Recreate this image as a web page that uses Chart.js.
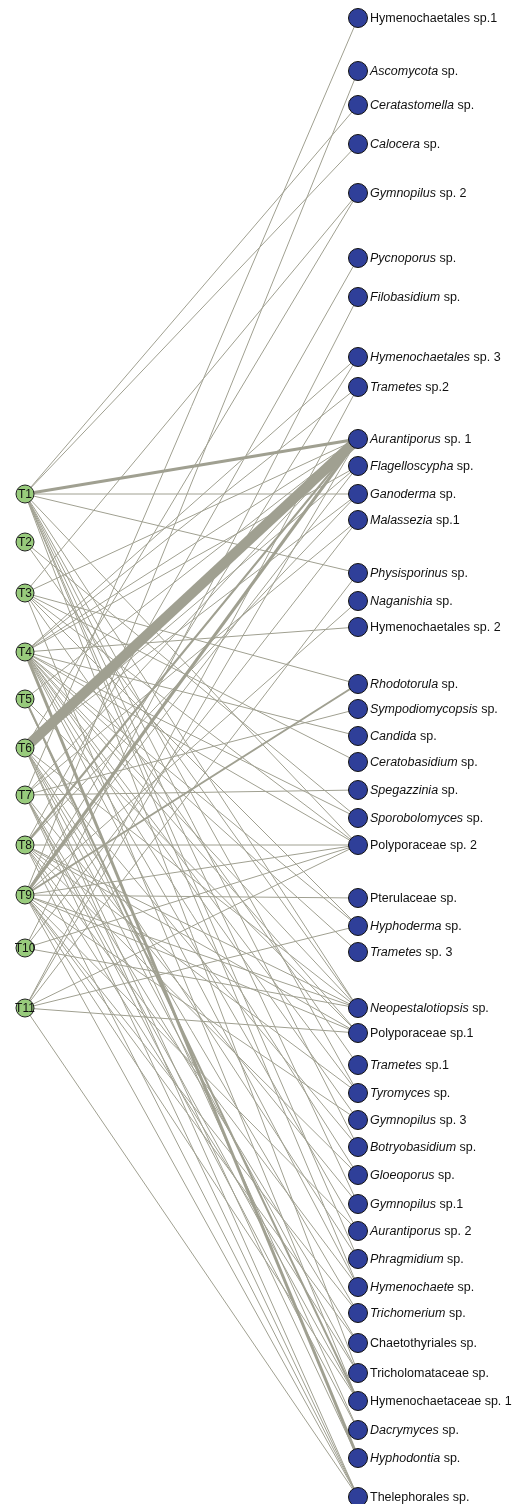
<!DOCTYPE html>
<html>
<head>
<meta charset="utf-8">
<script src="https://cdn.jsdelivr.net/npm/chart.js@4/dist/chart.umd.min.js"></script>
<style>
  html, body { margin: 0; padding: 0; background: #fff; }
  canvas { display: block; }
</style>
</head>
<body>
<canvas id="net" width="515" height="1504"></canvas>
<script>
// left nodes (sites) and their layout position
const leftNodes = ['T1', 'T2', 'T3', 'T4', 'T5', 'T6', 'T7', 'T8', 'T9', 'T10', 'T11']
const leftY = [494, 542, 593, 652, 699, 748, 795, 845, 895, 948, 1008]

// right nodes (fungal taxa) and their layout position
const rightNodes = [
  'Hymenochaetales sp.1', 'Ascomycota sp.', 'Ceratastomella sp.', 'Calocera sp.',
  'Gymnopilus sp. 2', 'Pycnoporus sp.', 'Filobasidium sp.', 'Hymenochaetales sp. 3',
  'Trametes sp.2', 'Aurantiporus sp. 1', 'Flagelloscypha sp.', 'Ganoderma sp.',
  'Malassezia sp.1', 'Physisporinus sp.', 'Naganishia sp.', 'Hymenochaetales sp. 2',
  'Rhodotorula sp.', 'Sympodiomycopsis sp.', 'Candida sp.', 'Ceratobasidium sp.',
  'Spegazzinia sp.', 'Sporobolomyces sp.', 'Polyporaceae sp. 2', 'Pterulaceae sp.',
  'Hyphoderma sp.', 'Trametes sp. 3', 'Neopestalotiopsis sp.', 'Polyporaceae sp.1',
  'Trametes sp.1', 'Tyromyces sp.', 'Gymnopilus sp. 3', 'Botryobasidium sp.',
  'Gloeoporus sp.', 'Gymnopilus sp.1', 'Aurantiporus sp. 2', 'Phragmidium sp.',
  'Hymenochaete sp.', 'Trichomerium sp.', 'Chaetothyriales sp.', 'Tricholomataceae sp.',
  'Hymenochaetaceae sp. 1', 'Dacrymyces sp.', 'Hyphodontia sp.', 'Thelephorales sp.'
]
const rightY = [
  18, 71, 105, 144, 193, 258, 297, 357, 387, 439, 466, 494,
  520, 573, 601, 627, 684, 709, 736, 762, 790, 818, 845, 898,
  926, 952, 1008, 1033, 1065, 1093, 1120, 1147, 1175, 1204, 1231, 1259,
  1287, 1313, 1343, 1373, 1401, 1430, 1458, 1497
]
// genus names are set in italics, higher taxa are not
const rightItalic = [
  false, true, true, true, true, true, true, true, true, true, true, true,
  true, true, true, false, true, true, true, true, true, true, false, false,
  true, true, true, false, true, true, true, true, true, true, true, true,
  true, true, false, false, false, true, true, false
]

// links: [site, taxon, weight]
const links = [
  ['T1', 'Ceratastomella sp.', 1], ['T1', 'Calocera sp.', 1], ['T1', 'Aurantiporus sp. 1', 3],
  ['T1', 'Ganoderma sp.', 1], ['T1', 'Physisporinus sp.', 1], ['T1', 'Polyporaceae sp. 2', 1],
  ['T1', 'Neopestalotiopsis sp.', 1], ['T1', 'Tyromyces sp.', 1], ['T1', 'Botryobasidium sp.', 1],
  ['T1', 'Gymnopilus sp.1', 1], ['T1', 'Phragmidium sp.', 1], ['T1', 'Hymenochaete sp.', 1],
  ['T1', 'Tricholomataceae sp.', 1],
  ['T2', 'Sporobolomyces sp.', 1], ['T2', 'Neopestalotiopsis sp.', 1],
  ['T3', 'Aurantiporus sp. 1', 1], ['T3', 'Gymnopilus sp. 2', 1], ['T3', 'Rhodotorula sp.', 1],
  ['T3', 'Ceratobasidium sp.', 1], ['T3', 'Polyporaceae sp. 2', 1], ['T3', 'Hyphoderma sp.', 1],
  ['T3', 'Trametes sp.1', 1], ['T3', 'Hymenochaetaceae sp. 1', 1],
  ['T4', 'Hymenochaetales sp. 3', 1], ['T4', 'Trametes sp.2', 1], ['T4', 'Aurantiporus sp. 1', 1],
  ['T4', 'Flagelloscypha sp.', 1], ['T4', 'Hymenochaetales sp. 2', 1], ['T4', 'Candida sp.', 1],
  ['T4', 'Sporobolomyces sp.', 1], ['T4', 'Polyporaceae sp. 2', 1], ['T4', 'Hyphoderma sp.', 1],
  ['T4', 'Trametes sp. 3', 1], ['T4', 'Neopestalotiopsis sp.', 1], ['T4', 'Polyporaceae sp.1', 1],
  ['T4', 'Tyromyces sp.', 1], ['T4', 'Gymnopilus sp. 3', 1], ['T4', 'Gloeoporus sp.', 1],
  ['T4', 'Aurantiporus sp. 2', 1], ['T4', 'Hymenochaete sp.', 1], ['T4', 'Hyphodontia sp.', 3],
  ['T5', 'Aurantiporus sp. 1', 1], ['T5', 'Polyporaceae sp.1', 1], ['T5', 'Hymenochaetaceae sp. 1', 2],
  ['T5', 'Dacrymyces sp.', 1],
  ['T6', 'Gymnopilus sp. 2', 1], ['T6', 'Aurantiporus sp. 1', 10], ['T6', 'Flagelloscypha sp.', 1],
  ['T6', 'Ganoderma sp.', 1], ['T6', 'Neopestalotiopsis sp.', 1], ['T6', 'Botryobasidium sp.', 1],
  ['T6', 'Phragmidium sp.', 1], ['T6', 'Trichomerium sp.', 1], ['T6', 'Tricholomataceae sp.', 1],
  ['T6', 'Hyphodontia sp.', 1], ['T6', 'Thelephorales sp.', 1],
  ['T7', 'Hymenochaetales sp.1', 1], ['T7', 'Aurantiporus sp. 1', 1], ['T7', 'Malassezia sp.1', 1],
  ['T7', 'Sympodiomycopsis sp.', 1], ['T7', 'Spegazzinia sp.', 1], ['T7', 'Gymnopilus sp.1', 1],
  ['T7', 'Chaetothyriales sp.', 1], ['T7', 'Hymenochaetaceae sp. 1', 1], ['T7', 'Dacrymyces sp.', 1],
  ['T7', 'Thelephorales sp.', 1],
  ['T8', 'Pycnoporus sp.', 1], ['T8', 'Aurantiporus sp. 1', 2], ['T8', 'Ganoderma sp.', 1],
  ['T8', 'Polyporaceae sp. 2', 1], ['T8', 'Neopestalotiopsis sp.', 1], ['T8', 'Polyporaceae sp.1', 1],
  ['T8', 'Tyromyces sp.', 1], ['T8', 'Gloeoporus sp.', 1], ['T8', 'Hymenochaete sp.', 1],
  ['T8', 'Tricholomataceae sp.', 1], ['T8', 'Thelephorales sp.', 1],
  ['T9', 'Ascomycota sp.', 1], ['T9', 'Hymenochaetales sp. 3', 1], ['T9', 'Aurantiporus sp. 1', 3],
  ['T9', 'Flagelloscypha sp.', 1], ['T9', 'Rhodotorula sp.', 2], ['T9', 'Naganishia sp.', 1],
  ['T9', 'Polyporaceae sp. 2', 1], ['T9', 'Pterulaceae sp.', 1], ['T9', 'Neopestalotiopsis sp.', 1],
  ['T9', 'Polyporaceae sp.1', 1], ['T9', 'Gymnopilus sp. 3', 1], ['T9', 'Aurantiporus sp. 2', 1],
  ['T9', 'Trichomerium sp.', 1], ['T9', 'Chaetothyriales sp.', 1], ['T9', 'Hymenochaetaceae sp. 1', 1],
  ['T9', 'Thelephorales sp.', 1],
  ['T10', 'Filobasidium sp.', 1], ['T10', 'Malassezia sp.1', 1], ['T10', 'Polyporaceae sp. 2', 1],
  ['T10', 'Neopestalotiopsis sp.', 1],
  ['T11', 'Trametes sp.2', 1], ['T11', 'Aurantiporus sp. 1', 1], ['T11', 'Physisporinus sp.', 1],
  ['T11', 'Polyporaceae sp. 2', 1], ['T11', 'Hyphoderma sp.', 1], ['T11', 'Polyporaceae sp.1', 1],
  ['T11', 'Thelephorales sp.', 1]
]

// the two columns of the layout, in x data units
const LEFT_X = 0
const RIGHT_X = 1

const edgeColor = '#a0a091'
const leftColor = '#98cb7c'
const rightColor = '#2f3f99'
const font = '"Liberation Sans", Arial, sans-serif'

let datasets = []

datasets.push({
  label: 'sites',
  order: 0,
  data: leftY.map(y => ({x: LEFT_X, y: y})),
  pointRadius: 9,
  pointBackgroundColor: leftColor,
  pointBorderColor: '#222',
  pointBorderWidth: 1,
  showLine: false,
  clip: false,
})

datasets.push({
  label: 'taxa',
  order: 0,
  data: rightY.map(y => ({x: RIGHT_X, y: y})),
  pointRadius: 9.5,
  pointBackgroundColor: rightColor,
  pointBorderColor: '#111',
  pointBorderWidth: 1,
  showLine: false,
  clip: false,
})

for (let i = 0; i < links.length; i++) {
  let [site, taxon, w] = links[i]
  let a = leftNodes.indexOf(site)
  let b = rightNodes.indexOf(taxon)
  datasets.push({
    label: site + ' - ' + taxon,
    order: 1,
    data: [{x: LEFT_X, y: leftY[a]}, {x: RIGHT_X, y: rightY[b]}],
    showLine: true,
    borderColor: edgeColor,
    borderWidth: w,
    pointRadius: 0,
    fill: false,
  })
}

// draws the node names next to / inside the circles
const nodeLabels = {
  id: 'nodeLabels',
  afterDatasetsDraw(chart) {
    const ctx = chart.ctx
    const xs = chart.scales.x
    const ys = chart.scales.y
    ctx.save()
    ctx.fillStyle = '#111'
    ctx.textBaseline = 'middle'

    ctx.textAlign = 'center'
    ctx.font = '12px ' + font
    for (let i = 0; i < leftNodes.length; i++) {
      ctx.fillText(leftNodes[i], xs.getPixelForValue(LEFT_X), ys.getPixelForValue(leftY[i]) + 0.5)
    }

    ctx.textAlign = 'left'
    for (let i = 0; i < rightNodes.length; i++) {
      let x = xs.getPixelForValue(RIGHT_X) + 12
      let y = ys.getPixelForValue(rightY[i]) + 0.5
      let name = rightNodes[i]
      if (rightItalic[i]) {
        let cut = name.indexOf(' sp')
        let genus = name.slice(0, cut)
        ctx.font = 'italic 12.5px ' + font
        ctx.fillText(genus, x, y)
        x += ctx.measureText(genus).width
        name = name.slice(cut)
      }
      ctx.font = '12.5px ' + font
      ctx.fillText(name, x, y)
    }
    ctx.restore()
  }
}

// x range chosen so the two columns sit where the original has them
const xMin = -25 / 333
const xMax = xMin + 515 / 333

new Chart(document.getElementById('net'), {
  type: 'scatter',
  data: { datasets: datasets },
  options: {
    responsive: false,
    animation: false,
    layout: { padding: 0, autoPadding: false },
    plugins: {
      legend: { display: false },
      tooltip: { enabled: false },
    },
    scales: {
      x: { type: 'linear', min: xMin, max: xMax, display: false },
      y: { type: 'linear', min: 0, max: 1504, reverse: true, display: false },
    },
  },
  plugins: [nodeLabels],
})
</script>
</body>
</html>
